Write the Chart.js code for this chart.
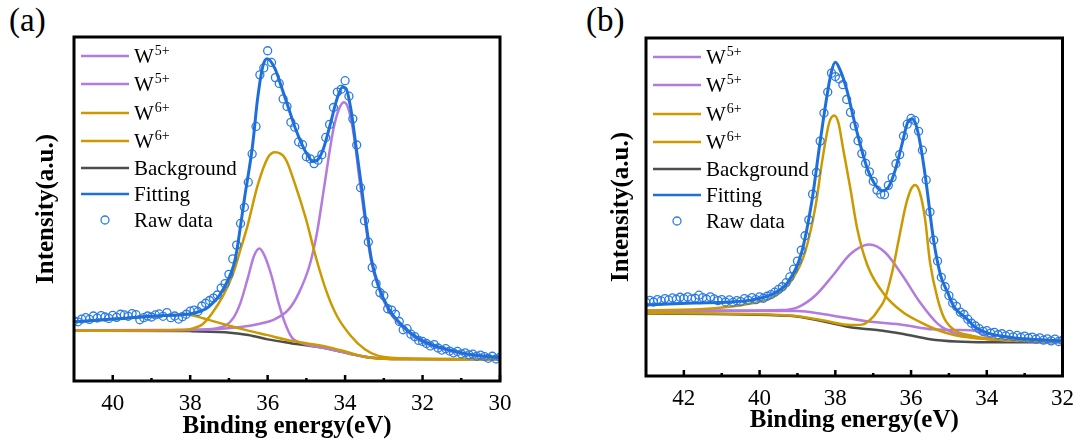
<!DOCTYPE html>
<html>
<head>
<meta charset="utf-8">
<script src="https://cdn.jsdelivr.net/npm/chart.js@4.4.1/dist/chart.umd.min.js"></script>
<style>
  body { margin: 0; background: #fff; width: 1083px; height: 446px; position: relative; overflow: hidden; font-family: "Liberation Serif", "Times New Roman", "DejaVu Serif", serif; }
  .panel { position: absolute; top: 0; height: 446px; }
  .etiqueta { position: absolute; top: 0px; font-size: 33px; line-height: 40px; color: #000; }
</style>
</head>
<body>
<div class="etiqueta" style="left:9px">(a)</div>
<div class="etiqueta" style="left:586px">(b)</div>
<div class="panel" style="left:0;width:541px"><canvas id="grafico-a" width="541" height="446"></canvas></div>
<div class="panel" style="left:541px;width:542px"><canvas id="grafico-b" width="542" height="446"></canvas></div>
<script>
// ---------- Datos panel (a) ----------
const aTicks = [40, 38, 36, 34, 32, 30];
const aMenores = [39, 37, 35, 33, 31];

const aFondoE = [41, 38, 37.1, 36.5, 36.0, 35.4, 34.5, 33.9, 33.4, 32.8, 30];
const aFondoI = [14.6, 14.5, 14.2, 13.4, 12.1, 11.0, 9.5, 8.0, 6.9, 6.4, 6.3];

const aAjusteE = [41.0, 40.0, 38.93, 37.95, 37.59, 37.42, 37.24, 37.06, 36.88, 36.79, 36.7, 36.6, 36.39, 36.26, 36.12, 36.01, 35.81, 35.63, 35.45, 35.28, 35.1, 34.92, 34.83, 34.7, 34.56, 34.39, 34.21, 34.07, 33.98, 33.85, 33.72, 33.58, 33.45, 33.32, 33.14, 32.87, 32.51, 32.07, 31.53, 30.91, 30.0];
const aAjusteI = [17.2, 18.0, 18.9, 19.6, 21.0, 22.6, 25.0, 28.5, 33.5, 38.3, 45.1, 52.9, 68.4, 82.0, 91.7, 93.7, 90.8, 85.0, 79.0, 73.3, 68.4, 64.8, 63.8, 64.4, 67.5, 74.3, 82.0, 85.4, 85.1, 79.0, 68.4, 56.8, 45.1, 35.4, 27.7, 20.9, 16.0, 12.1, 9.7, 8.0, 6.8];

const aW5aE = [41, 37.95, 37.33, 37.06, 36.88, 36.7, 36.52, 36.35, 36.21, 36.08, 35.9, 35.72, 35.54, 35.37, 35.19, 34.5, 33.9, 33.4, 32.8, 30];
const aW5aI = [14.6, 14.9, 15.3, 16.3, 18.4, 22.8, 29.6, 36.4, 38.5, 36.4, 30.6, 22.8, 16.5, 12.6, 11.3, 9.5, 8.0, 6.9, 6.4, 6.3];

const aW5bE = [41, 38.93, 37.59, 36.7, 36.26, 35.81, 35.45, 35.19, 34.92, 34.74, 34.56, 34.43, 34.3, 34.16, 34.03, 33.9, 33.76, 33.63, 33.49, 33.32, 33.14, 32.87, 32.51, 32.07, 31.53, 30.91, 30];
const aW5bI = [14.7, 14.8, 15.0, 15.7, 16.5, 18.0, 20.9, 25.7, 33.5, 42.2, 54.9, 64.6, 73.3, 79.0, 81.0, 78.6, 70.4, 58.7, 47.1, 34.5, 27.2, 20.4, 15.6, 11.8, 9.4, 7.8, 6.6];

const aW6aE = [41, 40, 39, 38.4, 38.1, 37.93, 37.5, 37.06, 36.55, 36.03, 35.35, 34.48, 33.88, 33.44, 32.8, 30];
const aW6aI = [17.2, 18.0, 18.7, 19.2, 19.4, 19.0, 17.7, 16.3, 14.8, 13.4, 11.6, 10.0, 8.2, 6.9, 6.4, 6.3];

const aW6bE = [41, 38.3, 37.95, 37.68, 37.42, 37.15, 36.88, 36.7, 36.52, 36.26, 35.99, 35.81, 35.54, 35.28, 35.01, 34.74, 34.47, 34.21, 33.85, 33.49, 33.14, 32.25, 30];
const aW6bI = [14.6, 14.8, 15.2, 16.5, 19.9, 24.8, 31.6, 38.3, 45.1, 56.8, 65.0, 66.5, 64.6, 56.8, 47.1, 35.4, 25.7, 18.9, 13.1, 9.2, 7.3, 6.5, 6.3];

const aCrudoE = [41.0, 40.9, 40.8, 40.7, 40.6, 40.5, 40.4, 40.3, 40.2, 40.1, 40.0, 39.9, 39.8, 39.7, 39.6, 39.5, 39.4, 39.3, 39.2, 39.1, 39.0, 38.9, 38.8, 38.7, 38.6, 38.5, 38.4, 38.3, 38.2, 38.1, 38.0, 37.9, 37.8, 37.7, 37.6, 37.5, 37.4, 37.3, 37.2, 37.1, 37.0, 36.9, 36.8, 36.7, 36.6, 36.5, 36.4, 36.3, 36.2, 36.1, 36.0, 35.9, 35.8, 35.7, 35.6, 35.5, 35.4, 35.3, 35.2, 35.1, 35.0, 34.9, 34.8, 34.7, 34.6, 34.5, 34.4, 34.3, 34.2, 34.1, 34.0, 33.9, 33.8, 33.7, 33.6, 33.5, 33.4, 33.3, 33.2, 33.1, 33.0, 32.9, 32.8, 32.7, 32.6, 32.5, 32.4, 32.3, 32.2, 32.1, 32.0, 31.9, 31.8, 31.7, 31.6, 31.5, 31.4, 31.3, 31.2, 31.1, 31.0, 30.9, 30.8, 30.7, 30.6, 30.5, 30.4, 30.3, 30.2, 30.1, 30.0];
const aCrudoI = [17.5, 17.2, 18.0, 18.4, 17.9, 18.9, 18.3, 19.0, 18.6, 18.2, 19.1, 18.5, 19.4, 19.2, 18.8, 19.6, 19.3, 17.8, 18.4, 18.9, 18.6, 19.2, 19.5, 18.8, 19.9, 18.4, 18.9, 18.0, 18.7, 19.4, 20.3, 20.6, 20.2, 21.8, 22.6, 23.4, 24.1, 25.0, 27.0, 28.3, 31.0, 35.5, 39.5, 45.8, 50.5, 57.8, 66.0, 74.0, 89.0, 91.0, 96.0, 92.6, 88.2, 86.5, 82.0, 79.8, 75.2, 73.8, 69.5, 68.7, 65.2, 64.6, 63.2, 64.2, 65.8, 70.8, 74.6, 79.5, 84.0, 84.8, 87.3, 82.8, 76.2, 68.6, 56.2, 46.6, 40.4, 33.0, 28.3, 25.7, 24.8, 21.0, 20.6, 19.4, 17.3, 14.9, 15.2, 13.6, 12.9, 11.8, 11.5, 10.9, 10.2, 10.6, 9.6, 9.0, 9.4, 8.7, 8.2, 8.6, 7.9, 8.2, 7.6, 7.8, 7.2, 7.5, 7.1, 6.6, 7.2, 6.4, 6.9];

// ---------- Datos panel (b) ----------
const bTicks = [42, 40, 38, 36, 34, 32];
const bMenores = [41, 39, 37, 35, 33];

const bFondoE = [43, 39.2, 38.3, 37.6, 36.9, 36.2, 35.5, 34.8, 34.0, 32];
const bFondoI = [18.5, 17.8, 16.1, 14.4, 13.6, 12.4, 10.9, 10.2, 10.0, 10.0];

const bAjusteE = [43, 41.73, 40.81, 40.17, 39.62, 39.25, 38.89, 38.61, 38.43, 38.25, 38.11, 38.0, 37.88, 37.7, 37.51, 37.33, 37.15, 36.96, 36.78, 36.6, 36.41, 36.23, 36.09, 35.97, 35.86, 35.73, 35.59, 35.41, 35.22, 35.04, 34.86, 34.58, 34.31, 33.94, 33.48, 33.03, 32];
const bAjusteI = [21.0, 21.6, 21.9, 22.6, 24.5, 27.8, 36.6, 52.4, 67.0, 80.8, 89.7, 92.8, 90.7, 84.8, 75.9, 68.0, 61.2, 56.8, 54.8, 55.8, 61.2, 69.0, 75.0, 76.0, 74.0, 67.0, 56.3, 40.6, 29.8, 24.9, 20.4, 17.5, 14.5, 12.6, 11.6, 11.0, 10.4];

const bW5aE = [43, 40.35, 39.44, 38.98, 38.52, 38.06, 37.6, 37.1, 36.69, 36.23, 35.77, 35.3, 35.04, 34.6, 33.9, 32];
const bW5aI = [19.4, 19.4, 19.5, 20.4, 23.9, 29.8, 36.1, 38.9, 36.6, 29.8, 21.9, 15.5, 13.6, 11.9, 10.8, 10.4];

const bW5bE = [43, 39.0, 38.3, 37.1, 36.2, 35.43, 34.8, 34.3, 34.1, 33.85, 33.5, 32];
const bW5bI = [19.3, 19.2, 18.3, 16.1, 15.1, 13.8, 13.6, 13.3, 12.2, 11.2, 10.5, 10.2];

const bW6aE = [43, 41.27, 40.35, 39.6, 39.16, 38.8, 38.52, 38.34, 38.16, 38.03, 37.92, 37.79, 37.6, 37.42, 37.15, 36.69, 36.23, 35.77, 35.3, 34.86, 34.4, 33.94, 32];
const bW6aI = [19.4, 20.0, 21.2, 23.6, 28.2, 36.6, 50.4, 64.1, 75.0, 77.1, 75.0, 67.0, 55.3, 43.5, 32.7, 23.9, 19.0, 16.0, 13.6, 12.1, 11.3, 10.9, 10.3];

const bW6bE = [43, 39.2, 38.3, 37.6, 37.3, 37.0, 36.87, 36.69, 36.5, 36.32, 36.14, 36.0, 35.89, 35.77, 35.63, 35.5, 35.3, 35.12, 34.86, 34.4, 33.94, 32];
const bW6bI = [18.6, 17.9, 16.4, 15.1, 15.2, 17.5, 19.5, 22.9, 30.7, 40.6, 50.4, 55.3, 56.5, 54.3, 46.5, 33.7, 22.9, 17.0, 13.6, 11.9, 11.0, 10.2];

const bCrudoE = [43.0, 42.9, 42.8, 42.7, 42.6, 42.5, 42.4, 42.3, 42.2, 42.1, 42.0, 41.9, 41.8, 41.7, 41.6, 41.5, 41.4, 41.3, 41.2, 41.1, 41.0, 40.9, 40.8, 40.7, 40.6, 40.5, 40.4, 40.3, 40.2, 40.1, 40.0, 39.9, 39.8, 39.7, 39.6, 39.5, 39.4, 39.3, 39.2, 39.1, 39.0, 38.9, 38.8, 38.7, 38.6, 38.5, 38.4, 38.3, 38.2, 38.1, 38.0, 37.9, 37.8, 37.7, 37.6, 37.5, 37.4, 37.3, 37.2, 37.1, 37.0, 36.9, 36.8, 36.7, 36.6, 36.5, 36.4, 36.3, 36.2, 36.1, 36.0, 35.9, 35.8, 35.7, 35.6, 35.5, 35.4, 35.3, 35.2, 35.1, 35.0, 34.9, 34.8, 34.7, 34.6, 34.5, 34.4, 34.3, 34.2, 34.1, 34.0, 33.9, 33.8, 33.7, 33.6, 33.5, 33.4, 33.3, 33.2, 33.1, 33.0, 32.9, 32.8, 32.7, 32.6, 32.5, 32.4, 32.3, 32.2, 32.1, 32.0];
const bCrudoI = [21.8, 22.4, 21.9, 22.6, 22.2, 22.9, 22.5, 23.1, 22.7, 23.3, 22.9, 23.4, 22.8, 23.0, 23.9, 23.2, 22.7, 23.4, 22.8, 22.3, 22.6, 21.9, 22.5, 21.8, 22.3, 22.0, 22.9, 22.4, 23.2, 22.6, 23.4, 23.0, 23.6, 24.1, 24.8, 25.6, 26.4, 27.6, 29.3, 31.6, 34.0, 37.2, 41.5, 46.2, 53.8, 60.2, 69.5, 77.8, 84.0, 89.6, 88.6, 87.9, 86.2, 81.8, 78.0, 74.0, 69.6, 65.8, 62.9, 60.4, 57.6, 55.0, 53.8, 53.6, 56.4, 58.7, 62.8, 65.5, 71.0, 74.5, 76.2, 75.6, 72.4, 66.8, 58.0, 48.5, 40.2, 34.0, 29.2, 26.4, 23.8, 21.6, 20.6, 18.9, 18.2, 16.8, 15.6, 14.8, 14.0, 13.2, 13.4, 12.7, 12.9, 12.2, 12.5, 11.9, 12.3, 11.6, 12.0, 11.4, 11.8, 11.2, 11.5, 10.9, 11.3, 10.6, 11.0, 10.4, 10.9, 10.2, 10.6];

// Leyenda (texto base + superíndice)
const nombresLeyenda = ["W", "W", "W", "W", "Background", "Fitting", "Raw data"];
const supLeyenda = ["5+", "5+", "6+", "6+", "", "", ""];
const filasLeyenda = [19, 47, 76, 104, 131, 157, 183];

const colores = {
  w5: "#B27BDD",
  w6: "#CC9900",
  fondo: "#4D4D4D",
  ajuste: "#1F6FDB",
  crudo: "#2C7CE3",
};
const fuente = "'Liberation Serif', 'Times New Roman', 'DejaVu Serif', serif";

function puntos(E, I) {
  return E.map((e, i) => ({ x: e, y: I[i] }));
}

function linea(label, E, I, color, orden, ancho) {
  return {
    label: label,
    data: puntos(E, I),
    borderColor: color,
    backgroundColor: color,
    borderWidth: ancho,
    pointRadius: 0,
    cubicInterpolationMode: "monotone",
    order: orden,
  };
}

// Marco, ticks hacia adentro y leyenda dentro del área
const marcoPlugin = {
  id: "marco",
  afterDatasetsDraw(chart) {
    const { ctx, chartArea: a } = chart;
    const x = chart.scales.x;
    const cfg = chart.options.plugins.marco;
    ctx.save();
    ctx.strokeStyle = "#000";
    ctx.lineWidth = 2.5;
    cfg.mayores.forEach((v) => {
      const px = x.getPixelForValue(v);
      ctx.beginPath();
      ctx.moveTo(px, a.bottom);
      ctx.lineTo(px, a.bottom - 6);
      ctx.stroke();
    });
    cfg.menores.forEach((v) => {
      const px = x.getPixelForValue(v);
      ctx.beginPath();
      ctx.moveTo(px, a.bottom);
      ctx.lineTo(px, a.bottom - 3);
      ctx.stroke();
    });
    ctx.lineWidth = 3;
    ctx.strokeRect(a.left, a.top, a.right - a.left, a.bottom - a.top);

    // leyenda
    const ds = chart.data.datasets;
    nombresLeyenda.forEach((nombre, i) => {
      const y = a.top + filasLeyenda[i];
      const d = ds[i];
      ctx.strokeStyle = d.borderColor;
      if (d.showLine === false) {
        ctx.lineWidth = 1.3;
        ctx.beginPath();
        ctx.arc(a.left + 31, y, 4, 0, Math.PI * 2);
        ctx.stroke();
      } else {
        ctx.lineWidth = 2.5;
        ctx.beginPath();
        ctx.moveTo(a.left + 7, y);
        ctx.lineTo(a.left + 55, y);
        ctx.stroke();
      }
      ctx.fillStyle = "#000";
      ctx.textBaseline = "alphabetic";
      ctx.font = "21px " + fuente;
      ctx.fillText(nombre, a.left + 60, y + 7);
      if (supLeyenda[i]) {
        const w = ctx.measureText(nombre).width;
        ctx.font = "14px " + fuente;
        ctx.fillText(supLeyenda[i], a.left + 60 + w + 1, y - 1);
      }
    });
    ctx.restore();
  },
};

function crearGrafico(id, datos, cfg) {
  const ctx = document.getElementById(id).getContext("2d");
  return new Chart(ctx, {
    type: "line",
    data: {
      datasets: [
        linea("W5+", datos.w5a[0], datos.w5a[1], colores.w5, 5, 2.5),
        linea("W5+", datos.w5b[0], datos.w5b[1], colores.w5, 5, 2.5),
        linea("W6+", datos.w6a[0], datos.w6a[1], colores.w6, 4, 2.5),
        linea("W6+", datos.w6b[0], datos.w6b[1], colores.w6, 4, 2.5),
        linea("Background", datos.fondo[0], datos.fondo[1], colores.fondo, 6, 2.5),
        linea("Fitting", datos.ajuste[0], datos.ajuste[1], colores.ajuste, 1, 3),
        {
          label: "Raw data",
          data: puntos(datos.crudo[0], datos.crudo[1]),
          showLine: false,
          borderColor: colores.crudo,
          backgroundColor: "rgba(0,0,0,0)",
          pointStyle: "circle",
          pointRadius: 4,
          pointBorderWidth: 1.3,
          order: 2,
        },
      ],
    },
    options: {
      responsive: false,
      animation: false,
      devicePixelRatio: 1,
      layout: { padding: { left: 0, top: cfg.arriba, right: cfg.derecha, bottom: 0 } },
      plugins: {
        legend: { display: false },
        tooltip: { enabled: false },
        marco: { mayores: cfg.mayores, menores: cfg.menores },
      },
      scales: {
        x: {
          type: "linear",
          reverse: true,
          min: cfg.min,
          max: cfg.max,
          grid: { display: false, drawTicks: false },
          border: { display: false },
          afterBuildTicks: (s) => {
            s.ticks = cfg.mayores.map((v) => ({ value: v }));
          },
          ticks: {
            color: "#000",
            padding: 9,
            maxRotation: 0,
            font: { family: fuente, size: 23 },
          },
          title: {
            display: true,
            text: "Binding energy(eV)",
            color: "#000",
            font: { family: fuente, size: 25, weight: "bold" },
            padding: { top: 0, bottom: cfg.tituloAbajo },
          },
          afterFit: (s) => {
            s.height = cfg.altoX;
          },
        },
        y: {
          min: 0,
          max: 100,
          grid: { display: false, drawTicks: false },
          border: { display: false },
          ticks: { display: false },
          title: {
            display: true,
            text: "Intensity(a.u.)",
            color: "#000",
            font: { family: fuente, size: 25, weight: "bold" },
            padding: { top: cfg.tituloY, bottom: 0 },
          },
          afterFit: (s) => {
            s.width = cfg.anchoY;
          },
        },
      },
    },
    plugins: [marcoPlugin],
  });
}

function dibujar() {
  crearGrafico(
    "grafico-a",
    {
      w5a: [aW5aE, aW5aI],
      w5b: [aW5bE, aW5bI],
      w6a: [aW6aE, aW6aI],
      w6b: [aW6bE, aW6bI],
      fondo: [aFondoE, aFondoI],
      ajuste: [aAjusteE, aAjusteI],
      crudo: [aCrudoE, aCrudoI],
    },
    { min: 30, max: 41, mayores: aTicks, menores: aMenores, arriba: 37, derecha: 41, altoX: 65, anchoY: 74, tituloY: 32, tituloAbajo: 4 }
  );

  crearGrafico(
    "grafico-b",
    {
      w5a: [bW5aE, bW5aI],
      w5b: [bW5bE, bW5bI],
      w6a: [bW6aE, bW6aI],
      w6b: [bW6bE, bW6bI],
      fondo: [bFondoE, bFondoI],
      ajuste: [bAjusteE, bAjusteI],
      crudo: [bCrudoE, bCrudoI],
    },
    { min: 32, max: 43, mayores: bTicks, menores: bMenores, arriba: 38, derecha: 18, altoX: 70, anchoY: 105, tituloY: 66, tituloAbajo: 10 }
  );
}

// Esperar a que la fuente esté lista antes de dibujar
Promise.all([
  document.fonts.load('21px "Liberation Serif"'),
  document.fonts.load('bold 25px "Liberation Serif"'),
]).then(dibujar, dibujar);
</script>
</body>
</html>
